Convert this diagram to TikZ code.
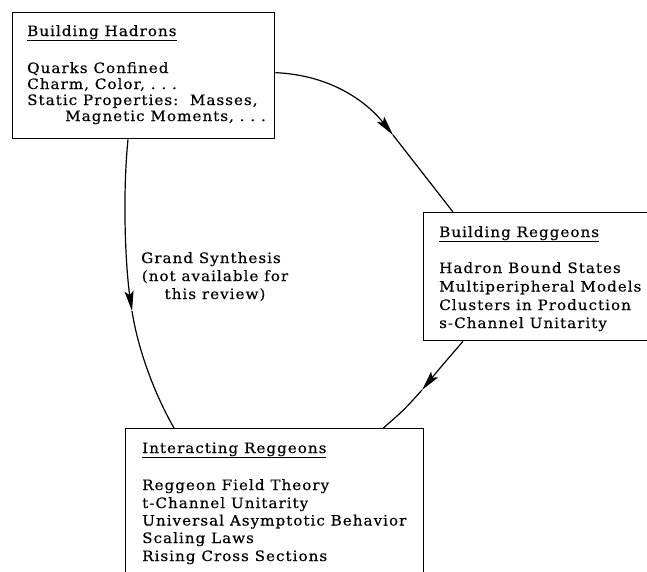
\documentclass[tikz,border=0pt]{standalone}
\usepackage{fontspec}
\newfontfamily\bodyfont[FakeStretch=1.06,LetterSpace=7,FakeBold=0.4]{DejaVu Serif}
\usetikzlibrary{arrows.meta}
\begin{document}
\begin{tikzpicture}[x=1pt,y=-1pt,
  box/.style={draw, line width=1.3pt, anchor=north west, inner sep=0pt},
  txt/.style={anchor=base west, inner sep=0pt, font=\bodyfont\fontsize{14.3}{16}\selectfont},
  ctxt/.style={anchor=base, inner sep=0pt, font=\bodyfont\fontsize{14.3}{16}\selectfont},
  conn/.style={line width=1.2pt},
  arr/.style={line width=1.2pt, -{Stealth[length=20pt,width=9pt,inset=4pt]}}
]
\clip (0,0) rectangle (647,571);
\useasboundingbox (0,0) rectangle (647,571);
\fill[white] (0,0) rectangle (647,571);

% boxes
\node[box, minimum width=262pt, minimum height=126pt] (hadrons) at (12,12) {};
\node[box, minimum width=260pt, minimum height=128pt] (breggeons) at (423,212) {};
\node[box, minimum width=298pt, minimum height=170pt] (ireggeons) at (125,428) {};

% Building Hadrons
\node[txt] (h0) at (27,36) {\underline{Building Hadrons}};
\node[txt] (h1) at (27,73) {Quarks Confined};
\node[txt] (h2) at (27,89) {Charm, Color,\ .\ .\ .};
\node[txt] (h3) at (27,105) {Static Properties:\ \ Masses,};
\node[txt] (h4) at (65,121) {Magnetic Moments,\ .\ .\ .};

% Building Reggeons
\node[txt] (b0) at (439,237) {\underline{Building Reggeons}};
\node[txt] (b1) at (439,273) {Hadron Bound States};
\node[txt] (b2) at (439,291.5) {Multiperipheral Models};
\node[txt] (b3) at (439,310) {Clusters in Production};
\node[txt] (b4) at (439,328) {s-Channel Unitarity};

% Interacting Reggeons
\node[txt] (i0) at (142,453) {\underline{Interacting Reggeons}};
\node[txt] (i1) at (142,490) {Reggeon Field Theory};
\node[txt] (i2) at (142,508) {t-Channel Unitarity};
\node[txt] (i3) at (142,525.5) {Universal Asymptotic Behavior};
\node[txt] (i4) at (142,543) {Scaling Laws};
\node[txt] (i5) at (142,561) {Rising Cross Sections};

% label
\node[ctxt] (g1) at (211,263) {Grand Synthesis};
\node[ctxt] (g2) at (215,281) {(not available for};
\node[ctxt] (g3) at (215,299) {this review)};

% connectors
\coordinate (m1) at (393,135);
\coordinate (m2) at (422,390);
\coordinate (m3) at (132,311);

\draw[arr] ([yshift=3pt]hadrons.east) .. controls (330,75) and (366,101) .. (m1);
\draw[conn] (m1) -- ([xshift=30pt]breggeons.north west);

\draw[arr] ([xshift=40pt]breggeons.south west) .. controls (440,368) .. (m2);
\draw[conn] (m2) .. controls (404,410) .. ([xshift=-41pt]ireggeons.north east);

\draw[arr] ([xshift=116pt]hadrons.south west) .. controls (122,200) and (126,270) .. (m3);
\draw[conn] (m3) .. controls (138,350) and (155,395) .. ([xshift=49pt]ireggeons.north west);
\end{tikzpicture}
\end{document}
